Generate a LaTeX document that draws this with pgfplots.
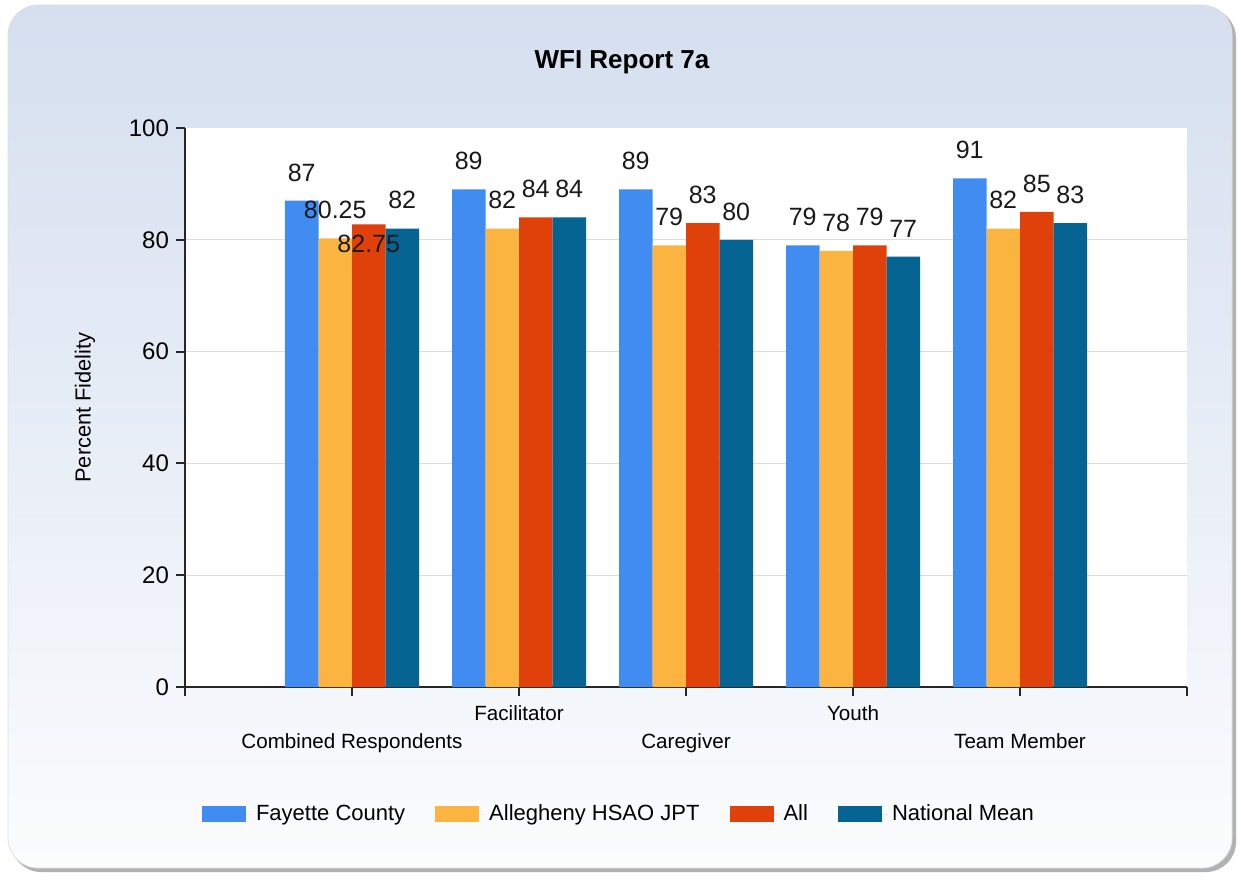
\documentclass[border=0pt]{standalone}
\usepackage{pgfplots}
\pgfplotsset{compat=1.18}
\usepackage{pgfplotstable}
\usepackage{fontspec}
\setmainfont{Liberation Sans}

\definecolor{cfay}{HTML}{418CF0}
\definecolor{calle}{HTML}{FCB441}
\definecolor{call}{HTML}{E0400A}
\definecolor{cnat}{HTML}{056492}
\definecolor{pantop}{HTML}{D5DFEF}
\definecolor{panbot}{HTML}{FBFCFE}

% label offset (pt) only needed where the chart moved a label
\pgfplotstableread{
x  fay  alle   all    nat  alloff
1  87   80.25  82.75  82   -23.8
2  89   82     84     84   0
3  89   79     83     80   0
4  79   78     79     77   0
5  91   82     85     83   0
}\wfidata

\begin{document}
\begin{tikzpicture}
\useasboundingbox (0,0) rectangle (620.5pt,440pt);
\fill[black!30, rounded corners=15pt] (5.5pt,4pt) rectangle (618pt,436pt);
\shadedraw[rounded corners=15pt, top color=pantop, bottom color=panbot, draw=black!12]
  (4pt,6pt) rectangle (616pt,437.5pt);
\node[font=\bfseries\fontsize{13}{15}\selectfont] at (311pt,409pt) {WFI Report 7a};

\begin{axis}[
  at={(92.5pt,96.5pt)}, anchor=south west,
  scale only axis, width=501pt, height=279.5pt,
  xmin=0, xmax=6, ymin=0, ymax=100,
  enlargelimits=false,
  ybar=0pt, bar width=16.75pt,
  axis lines*=left,
  axis line style={line width=1pt, black!85},
  axis background/.style={fill=white},
  tick style={line width=1pt, black!85},
  major tick length=4.5pt, tick align=outside,
  xtick={0,...,6},
  xticklabels={,{\strut\\Combined Respondents},{\strut Facilitator},{\strut\\Caregiver},{\strut Youth},{\strut\\Team Member},},
  xticklabel style={align=center, font=\fontsize{10.3}{14}\selectfont, inner sep=2.2pt},
  ytick={0,20,...,100},
  minor ytick={20,40,60,80},
  yminorgrids, minor tick length=0pt,
  minor grid style={line width=0.6pt, black!14},
  yticklabel style={font=\fontsize{12}{14}\selectfont},
  /pgf/number format/assume math mode=true,
  ylabel={Percent Fidelity},
  ylabel style={font=\fontsize{10.9}{13}\selectfont, at={(axis description cs:-0.0998,0.5)}, anchor=center},
  nodes near coords,
  every node near coord/.append style={font=\fontsize{12.5}{14}\selectfont, text=black!90, anchor=south, inner sep=0pt, yshift=9.5pt},
  legend style={at={(axis description cs:0.4341,-0.2272)}, anchor=center, draw=none, fill=none,
    font=\fontsize{11}{13}\selectfont, /tikz/every even column/.append style={column sep=13pt}},
  legend columns=4,
  legend image code/.code={\path (0pt,0pt) -- (25pt,0pt); \fill[#1] (0pt,-4pt) rectangle (22pt,4pt);},
]
\addplot[fill=cfay, draw=none] table[x=x, y=fay] {\wfidata};
\addplot[fill=calle, draw=none] table[x=x, y=alle] {\wfidata};
\addplot[fill=call, draw=none,
  visualization depends on={\thisrow{alloff} \as \labeloff},
  every node near coord/.append style={yshift=\labeloff pt}] table[x=x, y=all] {\wfidata};
\addplot[fill=cnat, draw=none] table[x=x, y=nat] {\wfidata};
\legend{Fayette County, Allegheny HSAO JPT, All, National Mean}
\end{axis}
\end{tikzpicture}
\end{document}
